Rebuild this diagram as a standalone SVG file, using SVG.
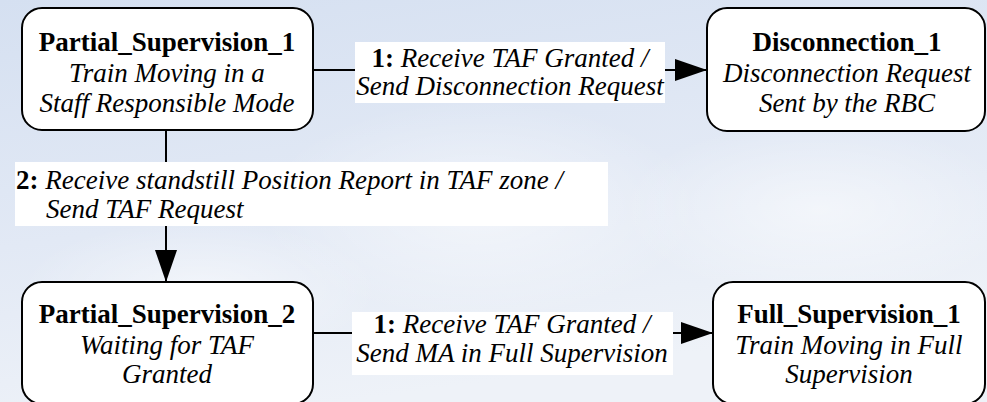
<svg xmlns="http://www.w3.org/2000/svg" width="987" height="402" viewBox="0 0 987 402">
  <defs>
    <linearGradient id="bg" x1="0" y1="0" x2="0.35" y2="1">
      <stop offset="0" stop-color="#d5e0f1"/>
      <stop offset="0.55" stop-color="#e2e9f5"/>
      <stop offset="1" stop-color="#eef2f8"/>
    </linearGradient>
    <radialGradient id="haze" cx="0.5" cy="0.5" r="0.5">
      <stop offset="0" stop-color="#ffffff" stop-opacity="0.5"/>
      <stop offset="1" stop-color="#ffffff" stop-opacity="0"/>
    </radialGradient>
    <marker id="arrow" viewBox="0 0 32 22" refX="32" refY="11" markerWidth="32" markerHeight="22" markerUnits="userSpaceOnUse" orient="auto">
      <path d="M0,0 L32,11 L0,22 Z" fill="#000"/>
    </marker>
    <style>
      .node rect { fill: #ffffff; stroke: #000000; stroke-width: 2; }
      .edge { fill: none; stroke: #000000; stroke-width: 2; }
      .lbl { fill: #ffffff; stroke: none; }
      text { font-family: 'Liberation Serif', 'DejaVu Serif', serif; font-size: 27px; fill: #000000; }
      .c { text-anchor: middle; }
      .b { font-weight: bold; }
      .i { font-style: italic; }
    </style>
  </defs>

  <!-- backdrop -->
  <rect x="0" y="0" width="987" height="402" fill="url(#bg)"/>
  <ellipse cx="480" cy="210" rx="220" ry="110" fill="url(#haze)"/>
  <ellipse cx="200" cy="290" rx="180" ry="70" fill="url(#haze)"/>
  <ellipse cx="820" cy="210" rx="200" ry="90" fill="url(#haze)"/>

  <!-- connectors -->
  <g id="connectors">
    <line class="edge" x1="313" y1="70" x2="707" y2="70" marker-end="url(#arrow)"/>
    <line class="edge" x1="166" y1="130" x2="166" y2="282" marker-end="url(#arrow)"/>
    <line class="edge" x1="313" y1="333" x2="713" y2="333" marker-end="url(#arrow)"/>

    <g id="label-e1">
      <rect class="lbl" x="355" y="42" width="310" height="61"/>
      <text class="c" x="510" y="67"><tspan class="b">1:</tspan> <tspan class="i">Receive TAF Granted /</tspan></text>
      <text class="c i" x="510" y="95">Send Disconnection Request</text>
    </g>
    <g id="label-e2">
      <rect class="lbl" x="15" y="162" width="593" height="64"/>
      <text x="16" y="189"><tspan class="b">2:</tspan> <tspan class="i">Receive standstill Position Report in TAF zone /</tspan></text>
      <text class="i" x="46" y="218">Send TAF Request</text>
    </g>
    <g id="label-e3">
      <rect class="lbl" x="352" y="312" width="321" height="63"/>
      <text class="c" x="512" y="333"><tspan class="b">1:</tspan> <tspan class="i">Receive TAF Granted /</tspan></text>
      <text class="c i" x="512" y="362">Send MA in Full Supervision</text>
    </g>
  </g>

  <!-- states -->
  <g id="partial-supervision-1" class="node">
    <rect x="22" y="8" width="291" height="122" rx="20" ry="20"/>
    <text class="c b" x="167" y="51">Partial_Supervision_1</text>
    <text class="c i" x="167" y="82">Train Moving in a</text>
    <text class="c i" x="167" y="112">Staff Responsible Mode</text>
  </g>

  <g id="disconnection-1" class="node">
    <rect x="707" y="8" width="278" height="123" rx="20" ry="20"/>
    <text class="c b" x="847" y="51">Disconnection_1</text>
    <text class="c i" x="847" y="82">Disconnection Request</text>
    <text class="c i" x="847" y="112">Sent by the RBC</text>
  </g>

  <g id="partial-supervision-2" class="node">
    <rect x="22" y="282" width="291" height="122" rx="20" ry="20"/>
    <text class="c b" x="167" y="323">Partial_Supervision_2</text>
    <text class="c i" x="167" y="354">Waiting for TAF</text>
    <text class="c i" x="167" y="383">Granted</text>
  </g>

  <g id="full-supervision-1" class="node">
    <rect x="713" y="282" width="272" height="122" rx="20" ry="20"/>
    <text class="c b" x="849" y="323">Full_Supervision_1</text>
    <text class="c i" x="849" y="354">Train Moving in Full</text>
    <text class="c i" x="849" y="383">Supervision</text>
  </g>
</svg>
